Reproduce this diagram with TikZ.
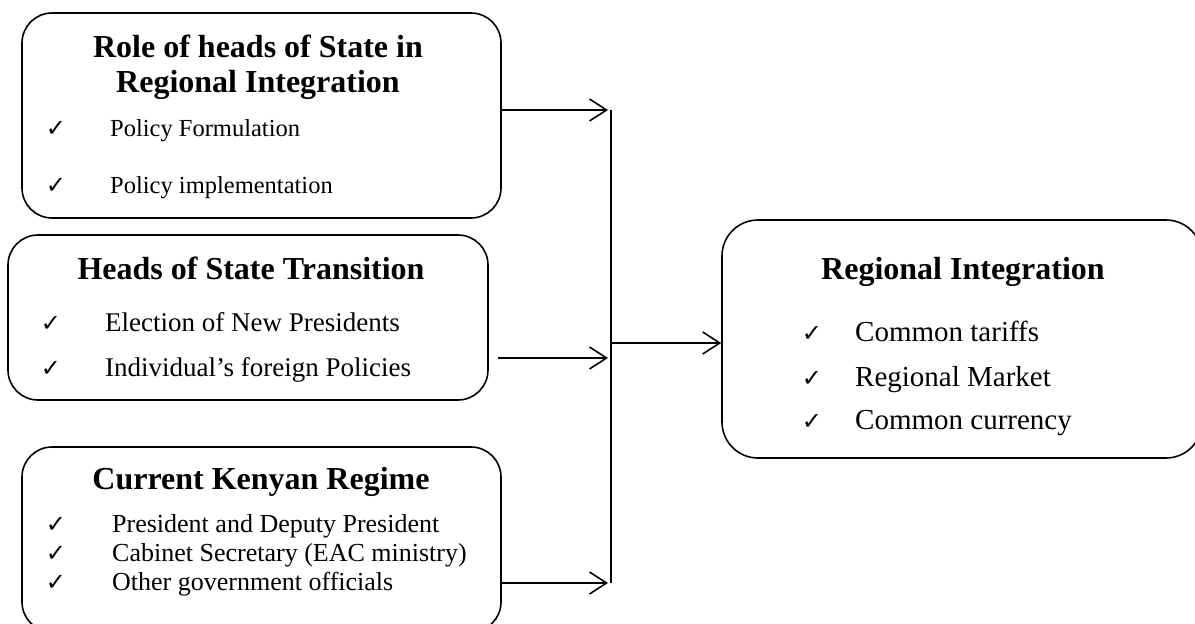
\documentclass[tikz,border=0pt]{standalone}
\usepackage{fontspec}
\setmainfont{Liberation Serif}
\newfontfamily\symfont{DejaVu Sans}
\usetikzlibrary{arrows.meta}
\begin{document}
\begin{tikzpicture}[x=1pt,y=-1pt,
  box/.style={draw,line width=1.6pt,rounded corners=30pt,inner sep=0pt},
  ttl/.style={font=\fontsize{32}{36}\selectfont\bfseries,anchor=base,inner sep=0pt},
  itm/.style={font=\fontsize{#1}{#1}\selectfont,anchor=base west,inner sep=0pt},
  itm/.default=26,
  chk/.style={font=\symfont\fontsize{24}{24}\selectfont,anchor=base,inner sep=0pt},
  conn/.style={line width=1.6pt},
  arr/.style={line width=1.6pt,-{Straight Barb[length=17pt,width=22pt,line width=1.6pt]}}]
\useasboundingbox (0,0) rectangle (1195,624);
\clip (0,0) rectangle (1195,624);
% boxes
\node[box,minimum width=479pt,minimum height=205pt] (b1) at (261.5,115.5) {};
\node[box,minimum width=480pt,minimum height=165pt] (b2) at (248,317.5) {};
\node[box,minimum width=479pt,minimum height=185pt] (b3) at (261.5,539.5) {};
\node[box,minimum width=480pt,minimum height=238pt,rounded corners=36pt] (b4) at (962,339) {};
% box 1 text
\node[ttl] (t1a) at (258,57) {Role of heads of State in};
\node[ttl] (t1b) at (258,92) {Regional Integration};
\node[chk] (c1a) at (56,136) {✓};
\node[itm=24.5] (i1a) at (110,136) {Policy Formulation};
\node[chk] (c1b) at (56,193) {✓};
\node[itm=24.5] (i1b) at (110,193) {Policy implementation};
% box 2 text
\node[ttl] (t2) at (251,279) {Heads of State Transition};
\node[chk] (c2a) at (51,331) {✓};
\node[itm=27] (i2a) at (105,331) {Election of New Presidents};
\node[chk] (c2b) at (51,376) {✓};
\node[itm=27] (i2b) at (105,376) {Individual’s foreign Policies};
% box 3 text
\node[ttl] (t3) at (261,489) {Current Kenyan Regime};
\node[chk] (c3a) at (56,532) {✓};
\node[itm=26] (i3a) at (112,532) {President and Deputy President};
\node[chk] (c3b) at (56,561) {✓};
\node[itm=26] (i3b) at (112,561) {Cabinet Secretary (EAC ministry)};
\node[chk] (c3c) at (56,590) {✓};
\node[itm=26] (i3c) at (112,590) {Other government officials};
% box 4 text
\node[ttl] (t4) at (963,279) {Regional Integration};
\node[chk] (c4a) at (812,341) {✓};
\node[itm=29] (i4a) at (855,341) {Common tariffs};
\node[chk] (c4b) at (812,386) {✓};
\node[itm=29] (i4b) at (855,386) {Regional Market};
\node[chk] (c4c) at (812,429) {✓};
\node[itm=29] (i4c) at (855,429) {Common currency};
% connectors
\coordinate (vtop) at (611,110);
\coordinate (vmid) at (611,343);
\coordinate (vbot) at (611,583);
\coordinate (s2) at (498,358);
\draw[conn] (vtop) -- (vbot);
\draw[arr] (b1.east |- vtop) -- ([xshift=-3pt]vtop);
\draw[arr] (s2) -- ([xshift=-3pt]vtop |- s2);
\draw[arr] (b3.east |- vbot) -- ([xshift=-3pt]vbot);
\draw[arr] (vmid) -- (b4.west |- vmid);
\end{tikzpicture}
\end{document}
